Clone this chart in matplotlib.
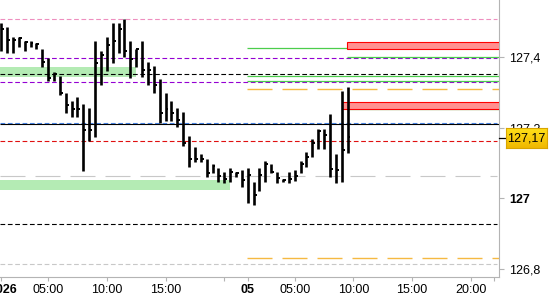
import matplotlib
matplotlib.use("Agg")
import matplotlib.pyplot as plt
import matplotlib.patches as mpatches
import matplotlib.transforms as mtransforms
import numpy as np

plt.rcParams["font.family"] = ["Liberation Sans", "DejaVu Sans"]
plt.rcParams["lines.scale_dashes"] = False

# 30-minute bars (index = bar number on a trading-time axis)
highs = [127.496, 127.483, 127.455, 127.455, 127.444, 127.444, 127.438, 127.423, 127.396, 127.357,
         127.346, 127.297, 127.274, 127.285, 127.266, 127.255, 127.444, 127.415, 127.455, 127.494,
         127.494, 127.506, 127.444, 127.423, 127.444, 127.385, 127.374, 127.336, 127.297, 127.274,
         127.255, 127.244, 127.176, 127.144, 127.125, 127.112, 127.097, 127.086, 127.074, 127.086,
         127.074, 127.080, 127.086, 127.046, 127.086, 127.105, 127.097, 127.074, 127.055, 127.074,
         127.080, 127.105, 127.131, 127.167, 127.195, 127.195, 127.238, 127.125, 127.302, 127.314]
lows = [127.417, 127.411, 127.411, 127.428, 127.417, 127.428, 127.423, 127.370, 127.331, 127.331,
        127.291, 127.240, 127.231, 127.231, 127.078, 127.161, 127.172, 127.319, 127.359, 127.381,
        127.411, 127.400, 127.340, 127.370, 127.342, 127.319, 127.298, 127.214, 127.219, 127.219,
        127.201, 127.148, 127.089, 127.103, 127.103, 127.059, 127.071, 127.046, 127.042, 127.046,
        127.059, 127.031, 126.988, 126.980, 127.020, 127.046, 127.071, 127.042, 127.046, 127.042,
        127.050, 127.071, 127.089, 127.118, 127.140, 127.140, 127.059, 127.044, 127.046, 127.129]
closes = [127.477, 127.447, 127.447, 127.453, 127.442, 127.438, 127.436, 127.385, 127.340, 127.351,
          127.298, 127.264, 127.253, 127.253, 127.193, 127.193, 127.383, 127.406, 127.433, 127.444,
          127.477, 127.415, 127.394, 127.423, 127.361, 127.362, 127.321, 127.242, 127.253, 127.242,
          127.221, 127.155, 127.111, 127.110, 127.112, 127.072, 127.091, 127.063, 127.054, 127.074,
          127.071, 127.052, 127.065, 127.009, 127.065, 127.097, 127.074, 127.057, 127.052, 127.055,
          127.063, 127.097, 127.117, 127.155, 127.191, 127.179, 127.084, 127.080, 127.136, 127.174]
last_price = 127.17

# x-axis ticks (bar index) and labels
tick_pos = [0, 8, 18, 28, 38, 42, 50, 60, 70, 80, 84]
tick_lbl = ["2026", "05:00", "10:00", "15:00", "", "05", "05:00", "10:00", "15:00", "20:00", ""]
tick_bold = ["2026", "05"]

# y-axis ticks
ytick_pos = [126.8, 127.0, 127.2, 127.4]
ytick_lbl = ["126,8", "127", "127,2", "127,4"]

# full-width level lines: (price, colour, dash pattern in pt)
levels = [
    (127.506, "#ee8fbf", (3.4, 1.9)),
    (127.395, "#9400d3", (3.4, 1.9)),
    (127.350, "#000000", (3.4, 1.9)),
    (127.328, "#9400d3", (3.4, 1.9)),
    (127.2138, "#4a86e8", (3.4, 1.9)),
    (127.161, "#e01010", (3.4, 1.9)),
    (127.063, "#c8c8c8", (18, 7.2)),
    (126.927, "#000000", (3.4, 1.9)),
    (126.816, "#c8c8c8", (3.4, 1.9)),
]
solid_level = 127.2112

# zones: (bottom, top, x_end)
zones = [(127.343, 127.371, 22.96), (127.025, 127.051, 39.0)]

# day-2 lines starting at the session open
green_levels = [127.424, 127.345, 127.331]
green_short = [127.398, 127.251]
orange_levels = [127.308, 126.833]
red_boxes = [(127.422, 127.441, 58.9), (127.251, 127.272, 58.06)]

x = np.arange(len(highs))
xmin, xmax = -0.2, 84.8

fig = plt.figure(figsize=(5.5, 3), dpi=100)
ax = fig.add_axes([0, 23 / 300, 499 / 550, 277 / 300])
ax.set_xlim(xmin, xmax)
ax.set_ylim(126.778, 127.560)

for lo, hi, xe in zones:
    ax.fill_between([xmin, xe], lo, hi, color="#b4ebb4", lw=0, zorder=1)

for p, c, d in levels:
    ax.hlines(p, xmin, 84.4, colors=c, lw=0.8, linestyles=[(0, d)], zorder=2)
ax.hlines(solid_level, xmin, xmax, colors="black", lw=0.8, zorder=2)

s = 41.9
for p in green_levels:
    ax.hlines(p, s, xmax, colors="#4ccd4c", lw=0.9, zorder=2)
for p in green_short:
    ax.hlines(p, 58.9, xmax, colors="#4ccd4c", lw=0.9, zorder=2)
for p in orange_levels:
    ax.hlines(p, s, xmax, colors="#f5b942", lw=1.0, linestyles=[(0, (18, 7.2))], zorder=2)
for lo, hi, xs in red_boxes:
    ax.add_patch(mpatches.Rectangle((xs, lo), xmax - xs + 1, hi - lo, fc="#ff9090",
                                    ec="#ff0000", lw=0.8, zorder=3))

# bars
ax.vlines(x, lows, highs, colors="black", lw=1.9, zorder=4)
ax.hlines(closes, x, x + 0.5, colors="black", lw=1.4, zorder=4)

# axes styling
for side in ["top", "left"]:
    ax.spines[side].set_visible(False)
for side in ["right", "bottom"]:
    ax.spines[side].set_color("#b4b4b4")
    ax.spines[side].set_linewidth(0.8)
ax.yaxis.tick_right()
ax.set_xticks(tick_pos)
ax.set_xticklabels(tick_lbl)
ax.set_yticks(ytick_pos)
ax.set_yticklabels(ytick_lbl)
ax.tick_params(axis="x", direction="out", length=3, width=0.8, color="#b4b4b4",
               labelsize=9, pad=2)
ax.tick_params(axis="y", direction="out", length=3.6, width=0.8, color="#b4b4b4",
               labelsize=9, pad=3.6)
shift = mtransforms.ScaledTranslation(2.5 / 100, 0, fig.dpi_scale_trans)
for t in ax.get_xticklabels():
    if t.get_text() in tick_bold:
        t.set_fontweight("bold")
    if t.get_text() == "2026":
        t.set_transform(t.get_transform() + shift)
for t in ax.get_yticklabels():
    if t.get_text() == "127":
        t.set_fontweight("bold")

# last price marker
ax.plot([1, 1.012], [last_price, last_price], color="black", lw=0.9,
        transform=ax.get_yaxis_transform(), clip_on=False, zorder=6)
bx0, bx1 = 505.7 / 550, 547 / 550
y_pix = 277 - (last_price - 126.778) / (127.560 - 126.778) * 277
by0, by1 = (300 - y_pix - 10.3) / 300, (300 - y_pix + 10.3) / 300
bax = fig.add_axes([bx0, by0, bx1 - bx0, by1 - by0])
grad = np.linspace(0, 1, 32).reshape(-1, 1)
cmap = matplotlib.colors.LinearSegmentedColormap.from_list("y", ["#ffe21a", "#f0b800"])
bax.imshow(grad, aspect="auto", cmap=cmap, extent=[0, 1, 0, 1])
bax.set_xticks([])
bax.set_yticks([])
for sp in bax.spines.values():
    sp.set_color("#d9a400")
    sp.set_linewidth(0.8)
bax.text(0.5, 0.5, f"{last_price:.2f}".replace(".", ","), ha="center", va="center",
         fontsize=9, color="black", transform=bax.transAxes)

fig.savefig("out.png", dpi=100)
